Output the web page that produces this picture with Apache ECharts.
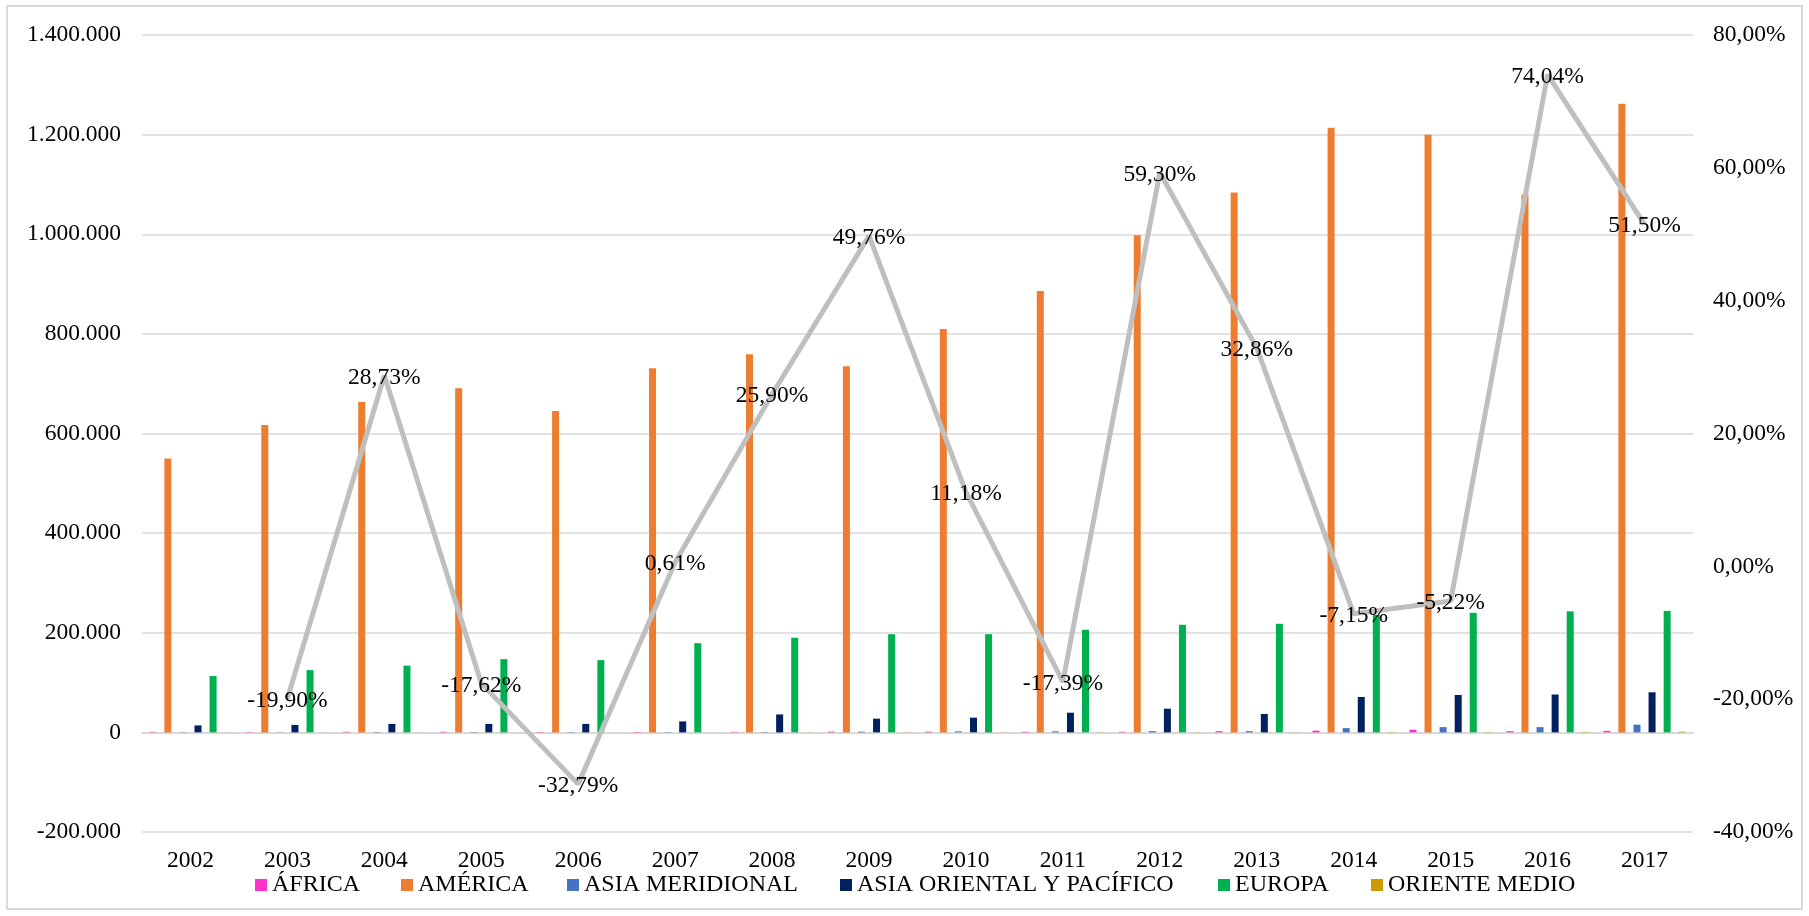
<!DOCTYPE html>
<html>
<head>
<meta charset="utf-8">
<script src="https://cdn.jsdelivr.net/npm/echarts@6/dist/echarts.min.js"></script>
<style>
  html, body { margin: 0; padding: 0; background: #ffffff; }
  #wrap { position: relative; width: 1809px; height: 916px; }
  #frame { position: absolute; left: 6px; top: 5px; width: 1797px; height: 905px; border: 2px solid #d9d9d9; box-sizing: border-box; pointer-events: none; }
  #chart { position: absolute; left: 0; top: 0; width: 1809px; height: 916px; }
</style>
</head>
<body>
<div id="wrap">
  <div id="chart"></div>
  <div id="frame"></div>
</div>
<script>
const years = ['2002','2003','2004','2005','2006','2007','2008','2009','2010','2011','2012','2013','2014','2015','2016','2017'];
const africa = [1000, 800, 1200, 1200, 900, 800, 1000, 1500, 1500, 1200, 1200, 2500, 3500, 5500, 2500, 3000];
const america = [550000, 617000, 663000, 691000, 645000, 731000, 759000, 735000, 810000, 886000, 998000, 1084000, 1214000, 1200000, 1080000, 1262000];
const asiaMeridional = [500, 500, 800, 800, 700, 700, 800, 1500, 2000, 2000, 2500, 2500, 8500, 10500, 10500, 15500];
const asiaOriental = [14000, 15000, 17000, 17000, 17000, 22000, 36000, 27500, 29500, 39500, 47500, 37000, 71000, 75000, 76000, 80500];
const europa = [113000, 125000, 134000, 147000, 145000, 179000, 190000, 197000, 197000, 206000, 216000, 218000, 236000, 240000, 243000, 244000];
const orienteMedio = [200, 200, 300, 300, 300, 300, 400, 500, 500, 500, 500, 500, 600, 700, 1000, 1500];
const variacion = [null, -19.90, 28.73, -17.62, -32.79, 0.61, 25.90, 49.76, 11.18, -17.39, 59.30, 32.86, -7.15, -5.22, 74.04, 51.50];
const seriesNames = ['ÁFRICA', 'AMÉRICA', 'ASIA MERIDIONAL', 'ASIA ORIENTAL Y PACÍFICO', 'EUROPA', 'ORIENTE MEDIO'];

const FONT = '"Liberation Serif", "Times New Roman", serif';
const FS = 23.5;

function fmtThousands(v) {
  const neg = v < 0;
  let s = Math.abs(Math.round(v)).toString();
  s = s.replace(/\B(?=(\d{3})+(?!\d))/g, '.');
  return (neg ? '-' : '') + s;
}
function fmtPct(v) {
  return v.toFixed(2).replace('.', ',') + '%';
}

const chart = echarts.init(document.getElementById('chart'), null, { renderer: 'canvas' });

function barSeries(name, data, color) {
  return {
    name: name,
    type: 'bar',
    data: data,
    yAxisIndex: 0,
    barGap: '115%',
    barCategoryGap: '15%',
    itemStyle: { color: color },
    z: 2
  };
}

const legendLefts = [255, 401, 567, 840, 1218, 1371];
const legends = seriesNames.map(function (n, i) {
  return {
    data: [n],
    left: legendLefts[i],
    top: 873,
    icon: 'rect',
    itemWidth: 12,
    itemHeight: 12,
    padding: 0,
    textStyle: { fontFamily: FONT, fontSize: 24, color: '#000000' }
  };
});

chart.setOption({
  animation: false,
  textStyle: { fontFamily: FONT },
  grid: { left: 142, right: 116, top: 35, bottom: 84, containLabel: false },
  legend: legends,
  xAxis: {
    type: 'category',
    data: years,
    axisLine: { onZero: true, lineStyle: { color: '#d9d9d9', width: 2 } },
    axisTick: { show: false },
    axisLabel: { fontFamily: FONT, fontSize: FS, color: '#000000', margin: 17 }
  },
  yAxis: [
    {
      type: 'value',
      min: -200000,
      max: 1400000,
      interval: 200000,
      axisLine: { show: false },
      axisTick: { show: false },
      splitLine: { lineStyle: { color: '#d9d9d9', width: 1.5 } },
      axisLabel: { fontFamily: FONT, fontSize: FS, color: '#000000', margin: 21, formatter: fmtThousands }
    },
    {
      type: 'value',
      min: -40,
      max: 80,
      interval: 20,
      position: 'right',
      axisLine: { show: false },
      axisTick: { show: false },
      splitLine: { show: false },
      axisLabel: { fontFamily: FONT, fontSize: FS, color: '#000000', margin: 20, formatter: function (v) { return fmtPct(v); } }
    }
  ],
  series: [
    barSeries(seriesNames[0], africa, '#ff33cc'),
    barSeries(seriesNames[1], america, '#ed7d31'),
    barSeries(seriesNames[2], asiaMeridional, '#4472c4'),
    barSeries(seriesNames[3], asiaOriental, '#002060'),
    barSeries(seriesNames[4], europa, '#00b050'),
    barSeries(seriesNames[5], orienteMedio, '#cc9900'),
    {
      name: 'VARIACIÓN',
      type: 'line',
      yAxisIndex: 1,
      data: variacion,
      connectNulls: false,
      symbol: 'circle',
      symbolSize: 1,
      lineStyle: { color: '#bfbfbf', width: 5 },
      itemStyle: { color: '#bfbfbf' },
      label: {
        show: true,
        position: 'inside',
        offset: [0, 2],
        fontFamily: FONT,
        fontSize: FS,
        color: '#000000',
        formatter: function (p) { return p.value == null ? '' : fmtPct(p.value); }
      },
      z: 5
    }
  ]
});
</script>
</body>
</html>
